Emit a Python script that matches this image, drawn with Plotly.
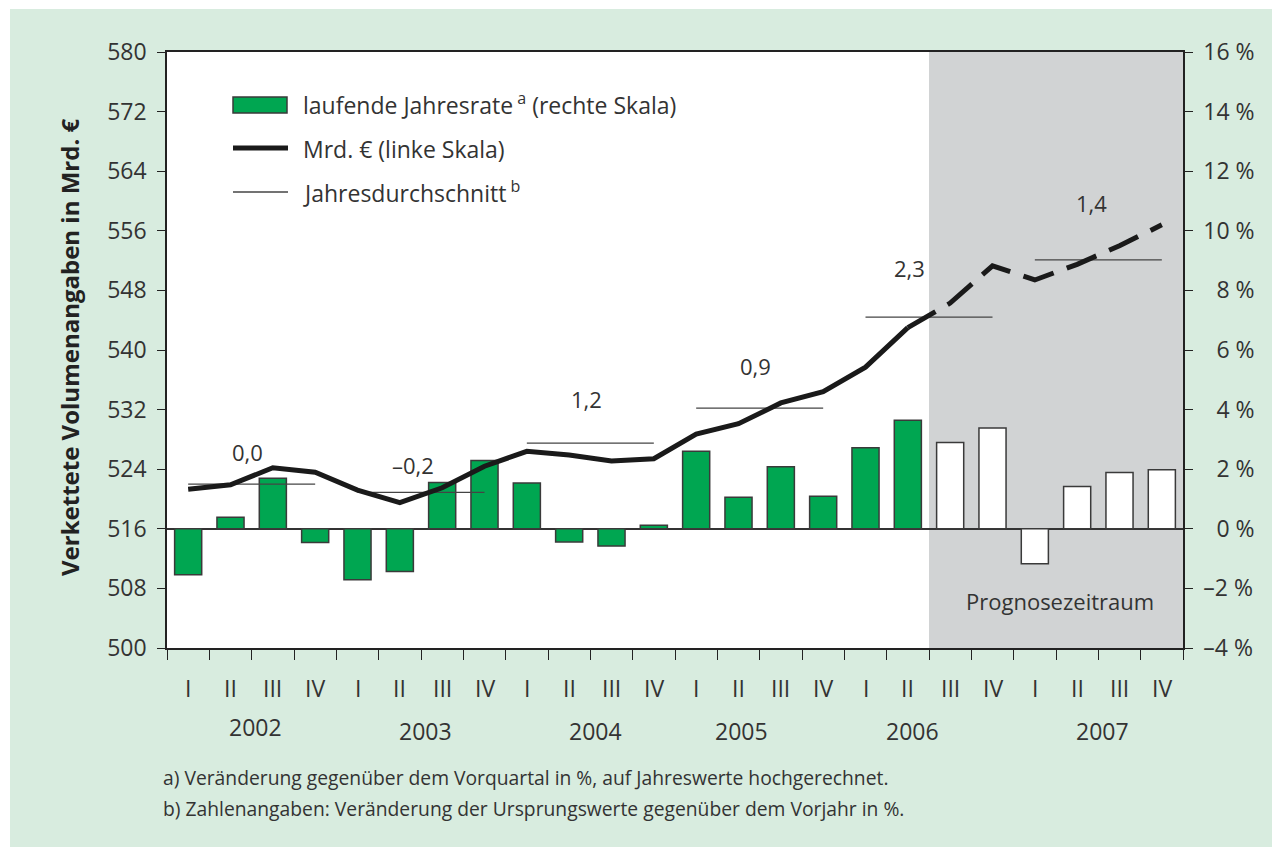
import plotly.graph_objects as go

# ---------------- data ----------------
quarters = ["I", "II", "III", "IV"] * 6
years = ["2002", "2003", "2004", "2005", "2006", "2007"]
year_label_x = [1.58, 5.6, 9.62, 13.06, 17.12, 21.59]

# laufende Jahresrate (%), right scale
rate = [-1.54, 0.39, 1.70, -0.46, -1.71, -1.43, 1.55, 2.29,
        1.54, -0.44, -0.58, 0.12, 2.60, 1.06, 2.08, 1.09,
        2.72, 3.64, 2.90, 3.38, -1.17, 1.42, 1.89, 1.98]
forecast_start = 18  # index of 2006 III

# Mrd. € level, left scale
level = [521.3, 521.9, 524.2, 523.6, 521.2, 519.5, 521.5, 524.4,
         526.4, 525.9, 525.1, 525.4, 528.7, 530.1, 532.9, 534.4,
         537.7, 543.0, 546.3, 551.3, 549.4, 551.5, 554.0, 556.8]

# Jahresdurchschnitt (left scale) and annual change labels
annual_avg = [522.0, 520.9, 527.5, 532.2, 544.4, 552.1]
annual_change = ["0,0", "\u20130,2", "1,2", "0,9", "2,3", "1,4"]
change_label_x = [1.39, 5.31, 9.40, 13.41, 17.05, 21.35]
change_label_y = [526.3, 524.6, 533.4, 537.9, 551.0, 559.7]

left_ticks = list(range(500, 581, 8))
right_ticks = list(range(-4, 17, 2))

# ---------------- styling ----------------
FONT = "Open Sans"
TXT = "#333333"
GREEN = "#00A651"
BG = "#D8ECDF"
GRAY = "#D1D3D4"

n = len(rate)
xs = list(range(n))

fig = go.Figure()

bar_colors = [GREEN if i < forecast_start else "white" for i in xs]
fig.add_trace(go.Bar(
    x=xs, y=rate, yaxis="y", width=0.64,
    marker=dict(color=bar_colors, line=dict(color="#3a3a3a", width=1.5)),
    showlegend=False, hoverinfo="skip"))

# annual average segments
for k, v in enumerate(annual_avg):
    fig.add_trace(go.Scatter(
        x=[4 * k, 4 * k + 3], y=[v, v], yaxis="y2", mode="lines",
        line=dict(color="#444444", width=1.3), showlegend=False, hoverinfo="skip"))

# level line: solid, then dashed for forecast
fig.add_trace(go.Scatter(
    x=xs[:forecast_start], y=level[:forecast_start], yaxis="y2", mode="lines",
    line=dict(color="#1a1a1a", width=5), showlegend=False, hoverinfo="skip"))
fig.add_trace(go.Scatter(
    x=xs[forecast_start - 1:], y=level[forecast_start - 1:], yaxis="y2", mode="lines",
    line=dict(color="#1a1a1a", width=5, dash="32px,14px"), showlegend=False, hoverinfo="skip"))

# ---------------- geometry (screen pixel -> paper) ----------------
OFF = 8  # page body margin
L, R, T, B = 167, 1183, 52, 648
W, H = R - L, B - T
FIG_W, FIG_H = 1265, 839
def px(x):
    return (x - L) / W
def py(y):
    return (B - y) / H

shapes = [
    dict(type="rect", xref="paper", yref="paper", x0=px(10), x1=px(1272), y0=py(847), y1=py(9),
         fillcolor=BG, line=dict(width=0), layer="below"),
    dict(type="rect", xref="x domain", yref="y domain", x0=0, x1=1, y0=0, y1=1,
         fillcolor="white", line=dict(width=0), layer="below"),
    dict(type="rect", xref="x", yref="y domain", x0=forecast_start - 0.5, x1=n - 0.5, y0=0, y1=1,
         fillcolor=GRAY, line=dict(width=0), layer="below"),
    # legend symbols
    dict(type="rect", xref="paper", yref="paper", x0=px(233), x1=px(287), y0=py(113), y1=py(97),
         fillcolor=GREEN, line=dict(color="#3a3a3a", width=1.5)),
    dict(type="line", xref="paper", yref="paper", x0=px(233), x1=px(288), y0=py(148), y1=py(148),
         line=dict(color="#1a1a1a", width=5)),
    dict(type="line", xref="paper", yref="paper", x0=px(233), x1=px(288), y0=py(192), y1=py(192),
         line=dict(color="#444444", width=1.3)),
]

ann = []
def add_text(text, x, y, xref="paper", yref="paper", size=22, xanchor="center", yanchor="middle", **kw):
    ann.append(dict(text=text, x=x, y=y, xref=xref, yref=yref, showarrow=False,
                    font=dict(family=FONT, size=size, color=TXT),
                    xanchor=xanchor, yanchor=yanchor, **kw))

add_text("laufende Jahresrate<sup> a</sup> (rechte Skala)", px(301), py(104), xanchor="left", size=23)
add_text("Mrd. \u20ac (linke Skala)", px(301), py(149), xanchor="left", size=23)
add_text("Jahresdurchschnitt<sup> b</sup>", px(301), py(192), xanchor="left", size=23)

for lbl, xv, yv in zip(annual_change, change_label_x, change_label_y):
    add_text(lbl, xv, yv, xref="x", yref="y2")

for i, q in enumerate(quarters):
    add_text(q, i, py(688), xref="x", size=23)
for k, (yr, xv) in enumerate(zip(years, year_label_x)):
    add_text(yr, xv, py(727 if k == 0 else 731), xref="x", size=23)

add_text("Prognosezeitraum", 20.6, py(601), xref="x")

add_text("a) Ver\u00e4nderung gegen\u00fcber dem Vorquartal in %, auf Jahreswerte hochgerechnet.",
         px(161), py(777), size=19.3, xanchor="left")
add_text("b) Zahlenangaben: Ver\u00e4nderung der Ursprungswerte gegen\u00fcber dem Vorjahr in %.",
         px(161), py(808), size=19.3, xanchor="left")

ann.append(dict(text="<b>Verkettete Volumenangaben in Mrd. \u20ac</b>", x=px(70), y=py(348),
                xref="paper", yref="paper", showarrow=False, textangle=-90,
                font=dict(family=FONT, size=24, color="#222222"),
                xanchor="center", yanchor="middle"))

def pct_label(v):
    s = f"{abs(v)} %"
    if v < 0:
        s = "\u2013" + s
    elif abs(v) < 10:
        s = "\u2007" + s
    return s

fig.update_layout(
    width=FIG_W, height=FIG_H,
    margin=dict(l=L - OFF, r=FIG_W - (R - OFF), t=T - OFF, b=FIG_H - (B - OFF)),
    paper_bgcolor="white", plot_bgcolor="rgba(0,0,0,0)",
    font=dict(family=FONT, size=22, color=TXT),
    xaxis=dict(range=[-0.5, n - 0.5], showgrid=False, zeroline=False,
               showline=True, linecolor="#222222", linewidth=1.5, mirror=True,
               tickvals=[i - 0.5 for i in range(n + 1)],
               ticks="outside", ticklen=10, tickcolor="#222222", tickwidth=1.3,
               showticklabels=False),
    yaxis=dict(side="right", range=[-4, 16], tickvals=right_ticks,
               ticktext=[pct_label(v) for v in right_ticks],
               showgrid=False, zeroline=True, zerolinecolor="#333333", zerolinewidth=1.5,
               showline=True, linecolor="#222222", linewidth=1.5,
               ticks="outside", ticklen=8, tickcolor="#222222", tickwidth=1.3,
               ticklabelstandoff=6, tickfont=dict(family=FONT, size=23, color=TXT)),
    yaxis2=dict(side="left", overlaying="y", range=[500, 580], tickvals=left_ticks,
                showgrid=False, zeroline=False,
                showline=True, linecolor="#222222", linewidth=1.5,
                ticks="outside", ticklen=8, tickcolor="#222222", tickwidth=1.3,
                ticklabelstandoff=6, tickfont=dict(family=FONT, size=23, color=TXT)),
    shapes=shapes, annotations=ann, showlegend=False,
)

fig.write_html("out.html")
